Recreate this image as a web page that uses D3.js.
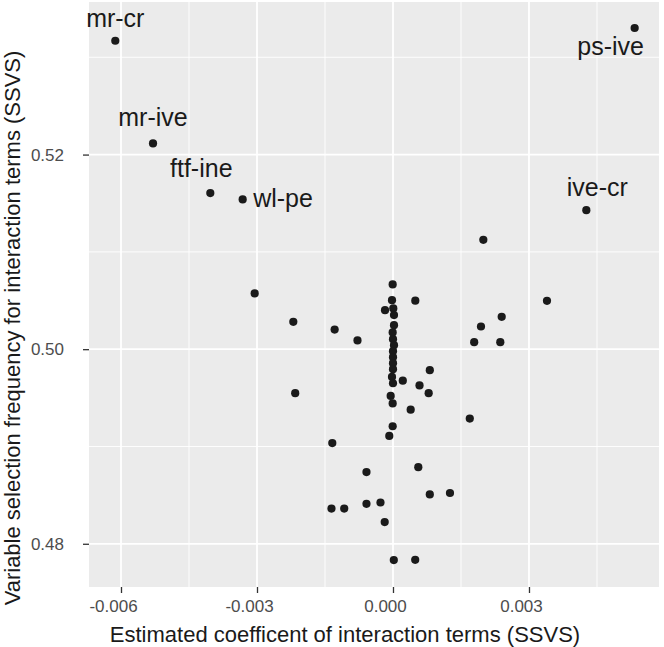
<!DOCTYPE html>
<html>
<head>
<meta charset="utf-8">
<script src="https://cdn.jsdelivr.net/npm/d3@7"></script>
<style>
  html,body{margin:0;padding:0;background:#fff;}
  svg{display:block;font-family:"Liberation Sans",Arial,Helvetica,sans-serif;}
</style>
</head>
<body>
<svg id="chart" width="664" height="647"></svg>
<script>
// ===== DATA =====
// estimated coefficient of each interaction term
const coef = [
  -0.006126, -0.005294, -0.004030, -0.003316, -0.003051, 0.005331, 0.004265, 0.001993,
  0.003397, 0.000492, -0.002199, -0.001287, -0.000783, 0.001941, 0.001791, 0.002367,
  0.002398, 0.000812, 0.000216, 0.000585, -0.002157, 0.000787, 0.000390, 0.001694,
  -0.001339, 0.000558, -0.000585, 0.000812, 0.001257, -0.001357, -0.001076, -0.000585,
  -0.000276, -0.000183, 0.000018, 0.000490,
  -0.000007, -0.000022, -0.000176, 0.000007, 0.000022, 0.000022, -0.000007, 0.000000,
  0.000022, 0.000000, 0.000000, 0.000000, 0.000000, -0.000022, 0.000000, -0.000051,
  -0.000007, -0.000007, -0.000082
];
// selection frequency of each interaction term
const freq = [
  0.53170, 0.52115, 0.51604, 0.51539, 0.50573, 0.53301, 0.51429, 0.51124,
  0.50497, 0.50499, 0.50281, 0.50201, 0.50090, 0.50233, 0.50072, 0.50072,
  0.50332, 0.49784, 0.49676, 0.49627, 0.49548, 0.49548, 0.49378, 0.49287,
  0.49035, 0.48787, 0.48737, 0.48507, 0.48522, 0.48362, 0.48362, 0.48411,
  0.48424, 0.48223, 0.47833, 0.47835,
  0.50665, 0.50504, 0.50401, 0.50419, 0.50350, 0.50247, 0.50172, 0.50103,
  0.50041, 0.49979, 0.49918, 0.49856, 0.49794, 0.49715, 0.49650, 0.49520,
  0.49442, 0.49208, 0.49108
];
// labelled terms (index into coef/freq)
const labelNames = ["mr-cr", "mr-ive", "ftf-ine", "wl-pe", "ps-ive", "ive-cr"];
const labelIndex = [0, 1, 2, 3, 5, 6];

const xTicks = [-0.006, -0.003, 0.000, 0.003];
const xMinor = [-0.0045, -0.0015, 0.0015, 0.0045];
const yTicks = [0.48, 0.50, 0.52];
const yMinor = [0.49, 0.51, 0.53];
const xDomain = [-0.006706, 0.005868];
const yDomain = [0.475558, 0.535681];

const xTitle = "Estimated coefficent of interaction terms (SSVS)";
const yTitle = "Variable selection frequency for interaction terms (SSVS)";

// ===== LAYOUT =====
const svg = d3.select("#chart");
const panel = {left: 89, right: 659, top: 2, bottom: 587};

const x = d3.scaleLinear().domain(xDomain).range([panel.left, panel.right]);
const y = d3.scaleLinear().domain(yDomain).range([panel.bottom, panel.top]);

// panel background
svg.append("rect")
  .attr("x", panel.left).attr("y", panel.top)
  .attr("width", panel.right - panel.left).attr("height", panel.bottom - panel.top)
  .attr("fill", "#ebebeb");

// grid lines
const grid = svg.append("g").attr("stroke", "#fff");
grid.selectAll(".vminor").data(xMinor).join("line")
  .attr("x1", d => x(d)).attr("x2", d => x(d))
  .attr("y1", panel.top).attr("y2", panel.bottom).attr("stroke-width", 0.9);
grid.selectAll(".hminor").data(yMinor).join("line")
  .attr("y1", d => y(d)).attr("y2", d => y(d))
  .attr("x1", panel.left).attr("x2", panel.right).attr("stroke-width", 0.9);
grid.selectAll(".vmajor").data(xTicks).join("line")
  .attr("x1", d => x(d)).attr("x2", d => x(d))
  .attr("y1", panel.top).attr("y2", panel.bottom).attr("stroke-width", 1.8);
grid.selectAll(".hmajor").data(yTicks).join("line")
  .attr("y1", d => y(d)).attr("y2", d => y(d))
  .attr("x1", panel.left).attr("x2", panel.right).attr("stroke-width", 1.8);

// axes
const fmt = d3.format(".3f");
const xAxis = svg.append("g")
  .attr("transform", `translate(0,${panel.bottom})`)
  .call(d3.axisBottom(x).tickValues(xTicks).tickFormat(d => fmt(d).replace("\u2212", "-")).tickSize(6).tickPadding(7));
const yAxis = svg.append("g")
  .attr("transform", `translate(${panel.left},0)`)
  .call(d3.axisLeft(y).tickValues(yTicks).tickFormat(d3.format(".2f")).tickSize(6).tickPadding(19));

[xAxis, yAxis].forEach(a => {
  a.select(".domain").remove();
  a.selectAll(".tick line").attr("stroke", "#333").attr("stroke-width", 1.3);
  a.selectAll(".tick text").attr("fill", "#4d4d4d")
    .style("font-size", "17px").style("font-family", '"Liberation Sans",Arial,sans-serif');
});
// labels in the reference sit a little left of their ticks
xAxis.selectAll(".tick text").attr("dx", -8);

// points
svg.append("g").selectAll("circle").data(coef.map((c, i) => [c, freq[i]])).join("circle")
  .attr("cx", d => x(d[0])).attr("cy", d => y(d[1]))
  .attr("r", 4.1).attr("fill", "#1a1a1a");

// point labels
const labelPos = {
  "mr-cr":   {dx: 0,   dy: -14, anchor: "middle"},
  "mr-ive":  {dx: 0,   dy: -17, anchor: "middle"},
  "ftf-ine": {dx: -9,  dy: -16, anchor: "middle"},
  "wl-pe":   {dx: 10.5, dy: 7.5, anchor: "start"},
  "ps-ive":  {dx: -24, dy: 27,  anchor: "middle"},
  "ive-cr":  {dx: 11,  dy: -14, anchor: "middle"}
};
svg.append("g").selectAll("text").data(labelNames).join("text")
  .attr("x", (d, i) => x(coef[labelIndex[i]]) + labelPos[d].dx)
  .attr("y", (d, i) => y(freq[labelIndex[i]]) + labelPos[d].dy)
  .attr("text-anchor", d => labelPos[d].anchor)
  .attr("fill", "#1a1a1a")
  .style("font-size", "25px")
  .text(d => d);

// axis titles
svg.append("text")
  .attr("x", 345).attr("y", 641.5)
  .attr("text-anchor", "middle").attr("fill", "#1a1a1a")
  .style("font-size", "22px")
  .text(xTitle);
svg.append("text")
  .attr("transform", "translate(20,328) rotate(-90)")
  .attr("text-anchor", "middle").attr("fill", "#1a1a1a")
  .style("font-size", "22px")
  .text(yTitle);
</script>
</body>
</html>
